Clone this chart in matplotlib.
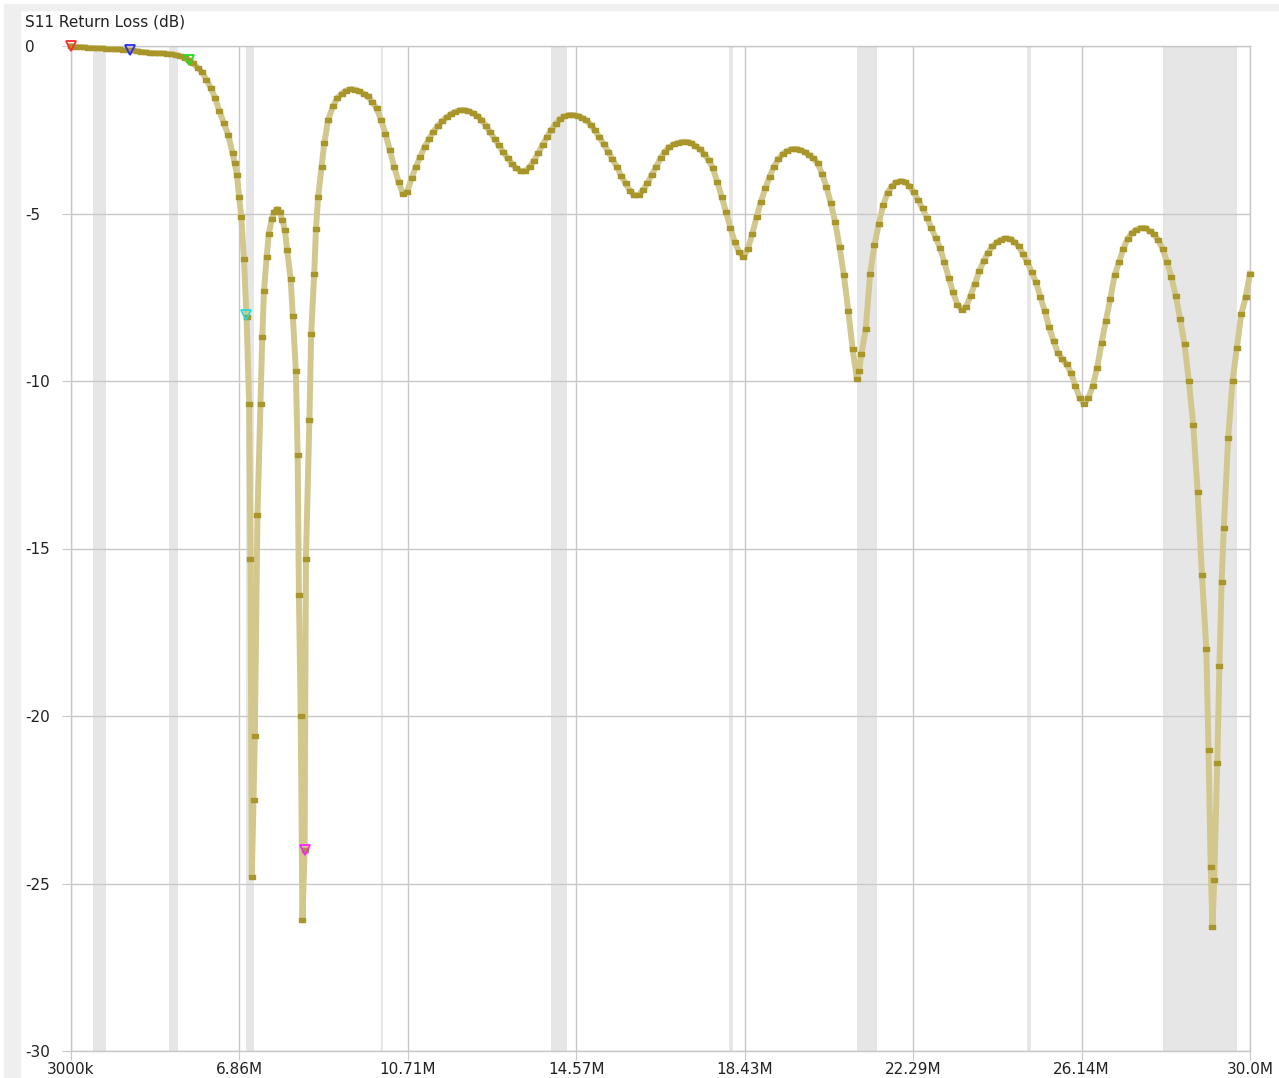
import numpy as np
import matplotlib
matplotlib.use('Agg')
import matplotlib.pyplot as plt
from matplotlib.patches import Rectangle
from matplotlib.path import Path

# S11 sweep (MHz, dB)
freq_mhz = [
    3.0, 3.1, 3.2, 3.3, 3.4, 3.5, 3.6, 3.7, 3.8, 3.9,
    4.0, 4.1, 4.2, 4.3, 4.4, 4.5, 4.6, 4.7, 4.8, 4.9,
    5.0, 5.1, 5.2, 5.3, 5.4, 5.5, 5.6, 5.7, 5.8, 5.9,
    6.0, 6.1, 6.2, 6.3, 6.4, 6.5, 6.6, 6.7, 6.75, 6.8, 6.85, 6.9, 6.96,
    7.02, 7.08, 7.11, 7.14, 7.18, 7.21, 7.27, 7.34, 7.38, 7.42, 7.48, 7.53,
    7.6, 7.66, 7.72, 7.78, 7.84, 7.9, 7.95, 8.03, 8.08, 8.15, 8.19, 8.22,
    8.26, 8.3, 8.35, 8.38, 8.46, 8.5, 8.57, 8.61, 8.66, 8.74, 8.8, 8.89,
    9.0, 9.1, 9.2, 9.3, 9.4, 9.5, 9.6, 9.7, 9.8, 9.9,
    10.0, 10.1, 10.2, 10.3, 10.4, 10.5, 10.6, 10.7, 10.8, 10.9,
    11.0, 11.1, 11.2, 11.3, 11.4, 11.5, 11.6, 11.7, 11.8, 11.9,
    12.0, 12.1, 12.2, 12.3, 12.4, 12.5, 12.6, 12.7, 12.8, 12.9,
    13.0, 13.1, 13.2, 13.3, 13.4, 13.5, 13.6, 13.7, 13.8, 13.9,
    14.0, 14.1, 14.2, 14.3, 14.4, 14.5, 14.6, 14.7, 14.8, 14.9,
    15.0, 15.1, 15.2, 15.3, 15.4, 15.5, 15.6, 15.7, 15.8, 15.9,
    16.0, 16.1, 16.2, 16.3, 16.4, 16.5, 16.6, 16.7, 16.8, 16.9,
    17.0, 17.1, 17.2, 17.3, 17.4, 17.5, 17.6, 17.7, 17.8, 17.9,
    18.0, 18.1, 18.2, 18.3, 18.4, 18.5, 18.6, 18.7, 18.8, 18.9,
    19.0, 19.1, 19.2, 19.3, 19.4, 19.5, 19.6, 19.7, 19.8, 19.9,
    20.0, 20.1, 20.2, 20.3, 20.4, 20.5, 20.6, 20.7, 20.8, 20.9,
    21.0, 21.05, 21.1, 21.2, 21.3, 21.4, 21.5, 21.6, 21.7, 21.8, 21.9,
    22.0, 22.1, 22.2, 22.3, 22.4, 22.5, 22.6, 22.7, 22.8, 22.9,
    23.0, 23.1, 23.2, 23.3, 23.4, 23.5, 23.6, 23.7, 23.8, 23.9,
    24.0, 24.1, 24.2, 24.3, 24.4, 24.5, 24.6, 24.7, 24.8, 24.9,
    25.0, 25.1, 25.2, 25.3, 25.4, 25.5, 25.6, 25.7, 25.8, 25.9,
    26.0, 26.1, 26.2, 26.3, 26.4, 26.5, 26.6, 26.7, 26.8, 26.9,
    27.0, 27.1, 27.2, 27.3, 27.4, 27.5, 27.6, 27.7, 27.8, 27.9,
    28.0, 28.1, 28.2, 28.3, 28.4, 28.5, 28.6, 28.7, 28.8, 28.9,
    29.0, 29.05, 29.1, 29.14, 29.18, 29.25, 29.3, 29.35, 29.4, 29.5,
    29.6, 29.7, 29.8, 29.9, 30.0,
]
s11_db = [
    0.0, -0.02, -0.03, -0.04, -0.05, -0.06, -0.07, -0.07, -0.08, -0.09,
    -0.10, -0.10, -0.11, -0.12, -0.13, -0.15, -0.17, -0.19, -0.20, -0.21,
    -0.22, -0.22, -0.23, -0.24, -0.26, -0.30, -0.36, -0.42, -0.52, -0.65,
    -0.78, -1.0, -1.25, -1.55, -1.95, -2.3, -2.65, -3.2, -3.5, -3.85, -4.5, -5.1, -6.35,
    -8.1, -10.7, -15.3, -24.8, -22.5, -20.6, -14.0, -10.7, -8.7, -7.3, -6.3, -5.6,
    -5.15, -4.95, -4.87, -4.95, -5.2, -5.5, -6.1, -6.95, -8.05, -9.7, -12.2, -16.4,
    -20.0, -26.1, -24.0, -15.3, -11.15, -8.6, -6.8, -5.45, -4.5, -3.6, -2.9, -2.2,
    -1.8, -1.55, -1.42, -1.33, -1.29, -1.3, -1.35, -1.42, -1.5, -1.68,
    -1.86, -2.2, -2.62, -3.1, -3.6, -4.05, -4.42, -4.35, -3.95, -3.6,
    -3.3, -3.0, -2.78, -2.56, -2.38, -2.24, -2.13, -2.03, -1.96, -1.92,
    -1.91, -1.94, -2.0, -2.08, -2.2, -2.38, -2.58, -2.77, -2.97, -3.17,
    -3.35, -3.52, -3.65, -3.74, -3.73, -3.62, -3.42, -3.2, -2.95, -2.72,
    -2.5, -2.32, -2.18, -2.1, -2.06, -2.06, -2.08, -2.14, -2.22, -2.35,
    -2.52, -2.72, -2.93, -3.15, -3.38, -3.6, -3.88, -4.1, -4.32, -4.46,
    -4.45, -4.3, -4.1, -3.85, -3.6, -3.35, -3.15, -3.02, -2.94, -2.89,
    -2.86, -2.86, -2.9, -2.98, -3.08, -3.22, -3.4, -3.65, -4.05, -4.5,
    -4.95, -5.42, -5.85, -6.15, -6.3, -6.05, -5.62, -5.1, -4.65, -4.25,
    -3.9, -3.6, -3.38, -3.22, -3.13, -3.08, -3.07, -3.1, -3.16, -3.25,
    -3.35, -3.5, -3.82, -4.2, -4.7, -5.25, -6.0, -6.85, -7.9, -9.05,
    -9.95, -9.7, -9.2, -8.45, -6.8, -5.95, -5.3, -4.75, -4.38, -4.18, -4.07,
    -4.03, -4.06, -4.18, -4.37, -4.6, -4.85, -5.12, -5.42, -5.72, -6.02,
    -6.45, -6.92, -7.35, -7.72, -7.88, -7.78, -7.45, -7.1, -6.72, -6.42,
    -6.18, -5.98, -5.86, -5.78, -5.74, -5.75, -5.84, -5.98, -6.2, -6.45,
    -6.75, -7.05, -7.5, -7.9, -8.4, -8.8, -9.15, -9.35, -9.5, -9.75,
    -10.15, -10.5, -10.68, -10.5, -10.15, -9.6, -8.87, -8.2, -7.55, -6.85,
    -6.45, -6.05, -5.75, -5.58, -5.48, -5.43, -5.43, -5.52, -5.62, -5.8,
    -6.05, -6.45, -6.9, -7.45, -8.15, -8.9, -10.0, -11.3, -13.3, -15.8,
    -18.0, -21.0, -24.5, -26.3, -24.9, -21.4, -18.5, -16.0, -14.4, -11.7,
    -10.0, -9.0, -8.0, -7.5, -6.8,
]

# marker triangles (MHz, dB, colour)
marker_freq = [3.0, 4.35, 5.7, 7.01, 8.35]
marker_db = [0.0, -0.12, -0.42, -8.03, -24.0]
marker_colors = ['#ff2a2a', '#2a2aff', '#22dd22', '#22dddd', '#ff22ff']

# ham bands shaded in grey (MHz)
band_lo = [3.5, 5.25, 7.0, 10.1, 14.0, 18.068, 21.0, 24.89, 28.0]
band_hi = [3.8, 5.45, 7.2, 10.15, 14.35, 18.168, 21.45, 24.99, 29.7]

xtick_labels = ['3000k', '6.86M', '10.71M', '14.57M', '18.43M', '22.29M', '26.14M', '30.0M']
ytick_vals = [0, -5, -10, -15, -20, -25, -30]

gridc = '#c8c8c8'
textc = '#222222'

fig = plt.figure(figsize=(12.79, 10.78), dpi=100)
fig.patch.set_facecolor('white')
# grey L-shaped frame of the window
fig.add_artist(Rectangle((4/1279, 1-10/1078), 1-4/1279, 6/1078,
                         transform=fig.transFigure, color='#efefef', zorder=0))
fig.add_artist(Rectangle((4/1279, 0), 16/1279, 1-10/1078,
                         transform=fig.transFigure, color='#efefef', zorder=0))

ax = fig.add_axes([71/1279, 1-1051/1078, (1250-71)/1279, (1051-46)/1078])
ax.set_facecolor('white')

for lo, hi in zip(band_lo, band_hi):
    ax.axvspan(lo, hi, color='#e6e6e6', lw=0, zorder=0)

ax.set_xlim(3.0, 30.0)
ax.set_ylim(-30, 0)

xt = np.linspace(3.0, 30.0, len(xtick_labels))
ax.set_xticks(xt)
ax.set_xticklabels(xtick_labels, fontsize=11, color=textc)
ax.set_yticks(ytick_vals)
ax.set_yticklabels([str(v) for v in ytick_vals], fontsize=11, color=textc, ha='left')
ax.tick_params(axis='y', length=6.5, color=gridc, pad=26.5)
ax.tick_params(axis='x', length=6.5, color=gridc, pad=1.5)
ax.grid(True, color=gridc, lw=1.0, zorder=1)
ax.set_axisbelow(True)
for sp in ax.spines.values():
    sp.set_color(gridc)
    sp.set_linewidth(1.0)

# trace: wide light line with a dark dash at every sweep point
dash = Path([(-1, -0.65), (1, -0.65), (1, 0.65), (-1, 0.65), (-1, -0.65)],
            [Path.MOVETO, Path.LINETO, Path.LINETO, Path.LINETO, Path.CLOSEPOLY])
ax.plot(freq_mhz, s11_db, color='#d2c88e', lw=4.3, solid_joinstyle='round',
        zorder=3, clip_on=False)
ax.plot(freq_mhz, s11_db, ls='none', marker=dash, markersize=4.6,
        color='#a8962a', mec='#a8962a', zorder=4, clip_on=False)

for f, d, c in zip(marker_freq, marker_db, marker_colors):
    ax.plot(f, d, marker='v', markersize=7, mfc='none', mec=c, mew=1.3,
            zorder=5, clip_on=False)

fig.text(25/1279, 1-22/1078, 'S11 Return Loss (dB)', fontsize=11,
         color=textc, ha='left', va='center')

plt.savefig('out.png', dpi=100)
